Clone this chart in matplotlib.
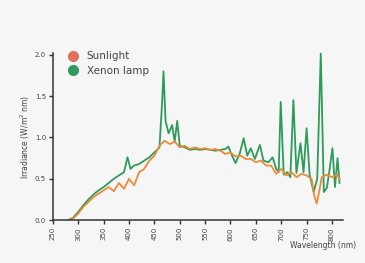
import matplotlib
matplotlib.use("Agg")
import matplotlib.pyplot as plt
from matplotlib.lines import Line2D

# sunlight spectrum (nm, W/m^2 nm)
sun_wl = [280, 290, 300, 310, 320, 330, 340, 350, 360, 370, 380, 390, 400, 410,
          420, 430, 440, 450, 460, 470, 480, 490, 500, 510, 520, 530, 540, 550,
          560, 570, 580, 590, 600, 610, 620, 630, 640, 650, 660, 670, 680, 690,
          700, 710, 720, 730, 740, 750, 760, 765, 770, 775, 780, 790, 800, 810, 815]
sun_val = [0.0, 0.02, 0.08, 0.16, 0.22, 0.28, 0.32, 0.36, 0.40, 0.35, 0.45, 0.38,
           0.50, 0.42, 0.58, 0.62, 0.72, 0.78, 0.90, 0.96, 0.92, 0.95, 0.88, 0.90,
           0.86, 0.88, 0.86, 0.87, 0.85, 0.86, 0.84, 0.80, 0.82, 0.77, 0.78, 0.74,
           0.74, 0.70, 0.72, 0.66, 0.66, 0.56, 0.62, 0.54, 0.58, 0.52, 0.56, 0.54,
           0.50, 0.30, 0.20, 0.35, 0.52, 0.55, 0.52, 0.55, 0.50]

# xenon lamp spectrum
xe_wl = [280, 290, 300, 310, 320, 330, 340, 350, 360, 370, 380, 390, 397, 403,
         410, 420, 430, 440, 450, 460, 465, 468, 472, 478, 485, 490, 495, 500,
         510, 520, 530, 540, 550, 560, 570, 580, 590, 596, 603, 610, 618, 626,
         633, 640, 648, 658, 665, 675, 683, 690, 695, 699, 705, 712, 718, 724,
         730, 738, 744, 750, 756, 764, 771, 778, 784, 790, 795, 801, 806, 811, 815]
xe_val = [0.0, 0.03, 0.10, 0.18, 0.25, 0.31, 0.36, 0.40, 0.45, 0.50, 0.54, 0.58,
          0.76, 0.62, 0.66, 0.68, 0.72, 0.76, 0.82, 0.88, 1.40, 1.80, 1.20, 1.05,
          1.15, 0.95, 1.20, 0.90, 0.88, 0.85, 0.86, 0.85, 0.86, 0.85, 0.84, 0.85,
          0.86, 0.89, 0.78, 0.69, 0.80, 0.99, 0.78, 0.87, 0.74, 0.91, 0.72, 0.70,
          0.76, 0.62, 0.58, 1.43, 0.55, 0.58, 0.52, 1.45, 0.57, 0.93, 0.58, 1.11,
          0.55, 0.34, 0.50, 2.02, 0.34, 0.39, 0.60, 0.87, 0.40, 0.75, 0.45]

x_ticks = [250, 300, 350, 400, 450, 500, 550, 600, 650, 700, 750, 800]
y_ticks = [0.0, 0.5, 1.0, 1.5, 2.0]

sun_color = "#EE8A3A"
xe_color = "#2E9B5B"
bg = "#F6F6F6"

fig = plt.figure(figsize=(3.65, 2.63), dpi=100, facecolor=bg)
ax = fig.add_axes([0.145, 0.163, 0.795, 0.635], facecolor=bg)

ax.plot(xe_wl, xe_val, color=xe_color, lw=1.3)
ax.plot(sun_wl, sun_val, color=sun_color, lw=1.3)

ax.set_xlim(250, 822)
ax.set_ylim(0, 2.02)
ax.set_xticks(x_ticks)
ax.set_yticks(y_ticks)
ax.set_xticklabels([str(t) for t in x_ticks], rotation=90)
ax.set_yticklabels([f"{t:.1f}" for t in y_ticks])
ax.tick_params(labelsize=5, length=3, width=1, color="#333333", labelcolor="#444444", pad=2)
for s in ["top", "right"]:
  ax.spines[s].set_visible(False)
for s in ["left", "bottom"]:
  ax.spines[s].set_linewidth(1.1)
  ax.spines[s].set_color("#333333")

ax.set_ylabel("Irradiance (W/m$^2$ nm)", fontsize=5.5, color="#444444", labelpad=2)
fig.text(290 / 365, 1 - 246 / 263, "Wavelength (nm)", fontsize=5.5, color="#444444",
         ha="left", va="center")

handles = [
  Line2D([], [], ls="none", marker="o", ms=7, color="#E2705A"),
  Line2D([], [], ls="none", marker="o", ms=7, color=xe_color),
]
ax.legend(handles, ["Sunlight", "Xenon lamp"], loc="upper left", bbox_to_anchor=(0.02, 1.035),
          frameon=False, fontsize=7.5, labelcolor="#444444", handletextpad=0.3,
          labelspacing=0.45, borderaxespad=0)

fig.savefig("out.png", dpi=100, facecolor=bg)
